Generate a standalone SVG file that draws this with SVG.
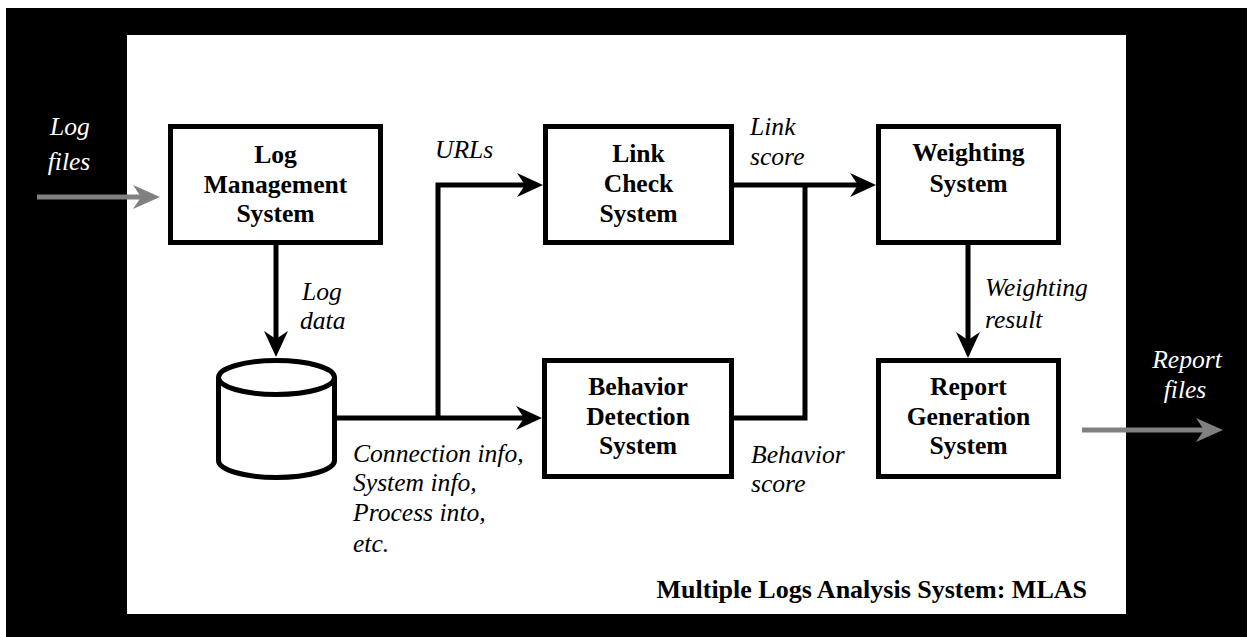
<svg xmlns="http://www.w3.org/2000/svg" width="1253" height="637" viewBox="0 0 1253 637">
  <style>
    .box { fill: #fff; stroke: #000; stroke-width: 5; }
    text { font-family: 'Liberation Serif', serif; font-size: 25.6px; }
    .lbl { font-weight: bold; fill: #000; text-anchor: middle; }
    .caption { font-weight: bold; fill: #000; text-anchor: end; font-size: 26px; }
    .note { font-style: italic; fill: #000; }
    .io { font-style: italic; fill: #fff; text-anchor: middle; }
    .flow { fill: none; stroke: #000; stroke-width: 5; }
    .ext { fill: none; stroke: #808080; stroke-width: 5; }
  </style>
  <defs>
    <marker id="head" markerUnits="userSpaceOnUse" viewBox="0 0 26 24" refX="14" refY="12" markerWidth="26" markerHeight="24" orient="auto">
      <path d="M0,0 L26,12 L0,24 L8,12 Z" fill="#000"/>
    </marker>
    <marker id="headGray" markerUnits="userSpaceOnUse" viewBox="0 0 27 24" refX="14" refY="12" markerWidth="27" markerHeight="24" orient="auto">
      <path d="M0,0 L27,12 L0,24 L8,12 Z" fill="#808080"/>
    </marker>
  </defs>

  <!-- frame -->
  <rect x="0" y="0" width="1253" height="637" fill="#fff"/>
  <rect x="6" y="8" width="1241" height="629" fill="#000"/>
  <rect x="127" y="35" width="999" height="579" fill="#fff"/>

  <!-- external inputs / outputs -->
  <g id="log-files">
    <text class="io" x="70" y="135">Log</text>
    <text class="io" x="69" y="170">files</text>
    <path class="ext" d="M37,197 H147" marker-end="url(#headGray)"/>
  </g>
  <g id="report-files">
    <text class="io" x="1187" y="368">Report</text>
    <text class="io" x="1185" y="398">files</text>
    <path class="ext" d="M1082,430 H1210" marker-end="url(#headGray)"/>
  </g>

  <!-- connectors -->
  <g id="connectors">
    <path class="flow" d="M276,245 V345" marker-end="url(#head)"/>
    <path class="flow" d="M337,418 H530" marker-end="url(#head)"/>
    <path class="flow" d="M438,418 V185 H531" marker-end="url(#head)"/>
    <path class="flow" d="M734,185 H864" marker-end="url(#head)"/>
    <path class="flow" d="M734,418 H805 V185"/>
    <path class="flow" d="M968,245 V346" marker-end="url(#head)"/>
    <text class="note" x="302" y="300">Log</text>
    <text class="note" x="300" y="329">data</text>
    <text class="note" x="435" y="158">URLs</text>
    <text class="note" x="750" y="135">Link</text>
    <text class="note" x="750" y="165">score</text>
    <text class="note" x="985" y="296">Weighting</text>
    <text class="note" x="985" y="328">result</text>
    <text class="note" x="751" y="463">Behavior</text>
    <text class="note" x="751" y="492">score</text>
    <text class="note" x="353" y="462">Connection info,</text>
    <text class="note" x="353" y="491">System info,</text>
    <text class="note" x="353" y="521">Process into,</text>
    <text class="note" x="353" y="552">etc.</text>
  </g>

  <!-- nodes -->
  <g id="log-management">
    <rect class="box" x="170.5" y="126.5" width="210" height="116"/>
    <text class="lbl" x="275.5" y="163">Log</text>
    <text class="lbl" x="275.5" y="193">Management</text>
    <text class="lbl" x="275.5" y="222">System</text>
  </g>
  <g id="log-store">
    <path d="M218.5,377.5 V460.5 A58,17 0 0 0 334.5,460.5 V377.5" fill="#fff" stroke="#000" stroke-width="5"/>
    <ellipse cx="276.5" cy="377.5" rx="58" ry="17" fill="#fff" stroke="#000" stroke-width="5"/>
  </g>
  <g id="link-check">
    <rect class="box" x="545.5" y="126.5" width="186" height="116"/>
    <text class="lbl" x="638.5" y="162">Link</text>
    <text class="lbl" x="638.5" y="192">Check</text>
    <text class="lbl" x="638.5" y="222">System</text>
  </g>
  <g id="behavior-detection">
    <rect class="box" x="544.5" y="360.5" width="187" height="116"/>
    <text class="lbl" x="638" y="395">Behavior</text>
    <text class="lbl" x="638" y="425">Detection</text>
    <text class="lbl" x="638" y="454">System</text>
  </g>
  <g id="weighting">
    <rect class="box" x="878.5" y="126.5" width="180" height="116"/>
    <text class="lbl" x="968.5" y="161">Weighting</text>
    <text class="lbl" x="968.5" y="192">System</text>
  </g>
  <g id="report-generation">
    <rect class="box" x="878.5" y="360.5" width="180" height="116"/>
    <text class="lbl" x="968.5" y="395">Report</text>
    <text class="lbl" x="968.5" y="425">Generation</text>
    <text class="lbl" x="968.5" y="454">System</text>
  </g>

  <text class="caption" x="1087" y="598">Multiple Logs Analysis System: MLAS</text>
</svg>
